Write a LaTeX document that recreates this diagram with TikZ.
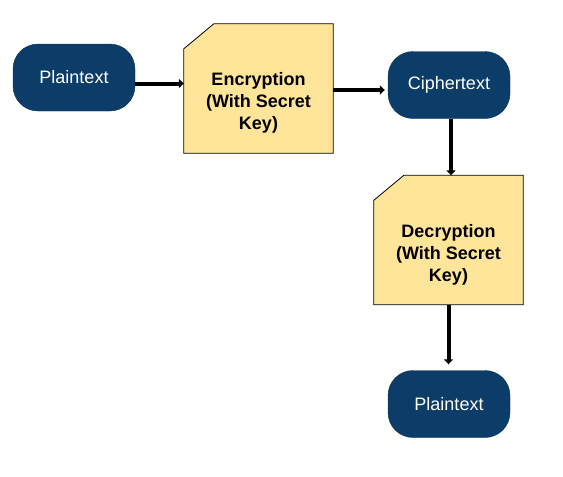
\documentclass[tikz,border=0pt]{standalone}
\usepackage{fontspec}
\setmainfont{Liberation Sans}
\usepackage{xcolor}
\usetikzlibrary{arrows.meta, backgrounds}

\definecolor{navy}{HTML}{0C3C68}
\definecolor{paleyellow}{HTML}{FFE599}

\begin{document}
\begin{tikzpicture}[
		x=1pt, y=-1pt,
		term/.style={draw=navy!80!black, fill=navy, rounded corners=25pt, minimum width=122pt, minimum height=67pt, text=white, font=\fontsize{18}{22}\selectfont},
		proc/.style={rectangle, minimum width=149pt, minimum height=129pt, inner sep=0pt,
			label={[font=\fontsize{18}{22}\selectfont\bfseries, yshift=-14.5pt]center:#1}},
		procshape/.style={draw, fill=paleyellow, line width=0.8pt},
		flow/.style={-{Triangle[length=5pt,width=9pt]}, line width=4pt},
		every node/.style={align=center}
		]
		
		\useasboundingbox (0,0) rectangle (563,477);
		
		% Top row
		\node[term] (plainin) at (74,77.5) {Plaintext};
		\node[proc={Encryption\\(With Secret\\Key)}] (enc) at (258.5,88.5) {};
		\node[term] (cipher) at (449,85) {Ciphertext};
		
		% Right column
		\node[proc={Decryption\\(With Secret\\Key)}] (dec) at (448.5,240) {};
		\node[term] (plainout) at (449,404) {Plaintext};
		
		% Cut-corner outlines behind the texts
		\begin{scope}[on background layer]
			\foreach \n in {enc, dec}
			\draw[procshape] ([yshift=-25pt]\n.north west) -- ([xshift=30pt]\n.north west)
				-- (\n.north east) -- (\n.south east) -- (\n.south west) -- cycle;
		\end{scope}
		
		% Arrows
		\draw[flow] ([yshift=-6pt]plainin.east) -- ([yshift=-6pt]plainin.east -| enc.west);
		\draw[flow, shorten >=3pt] ([yshift=-1.5pt]enc.east) -- ([yshift=-1.5pt]enc.east -| cipher.west);
		\draw[flow] ([xshift=2pt]cipher.south) -- ([xshift=2pt]cipher.south |- dec.north);
		\draw[flow, shorten >=6pt] (dec.south) -- (dec.south |- plainout.north);
		
	\end{tikzpicture}
\end{document}
